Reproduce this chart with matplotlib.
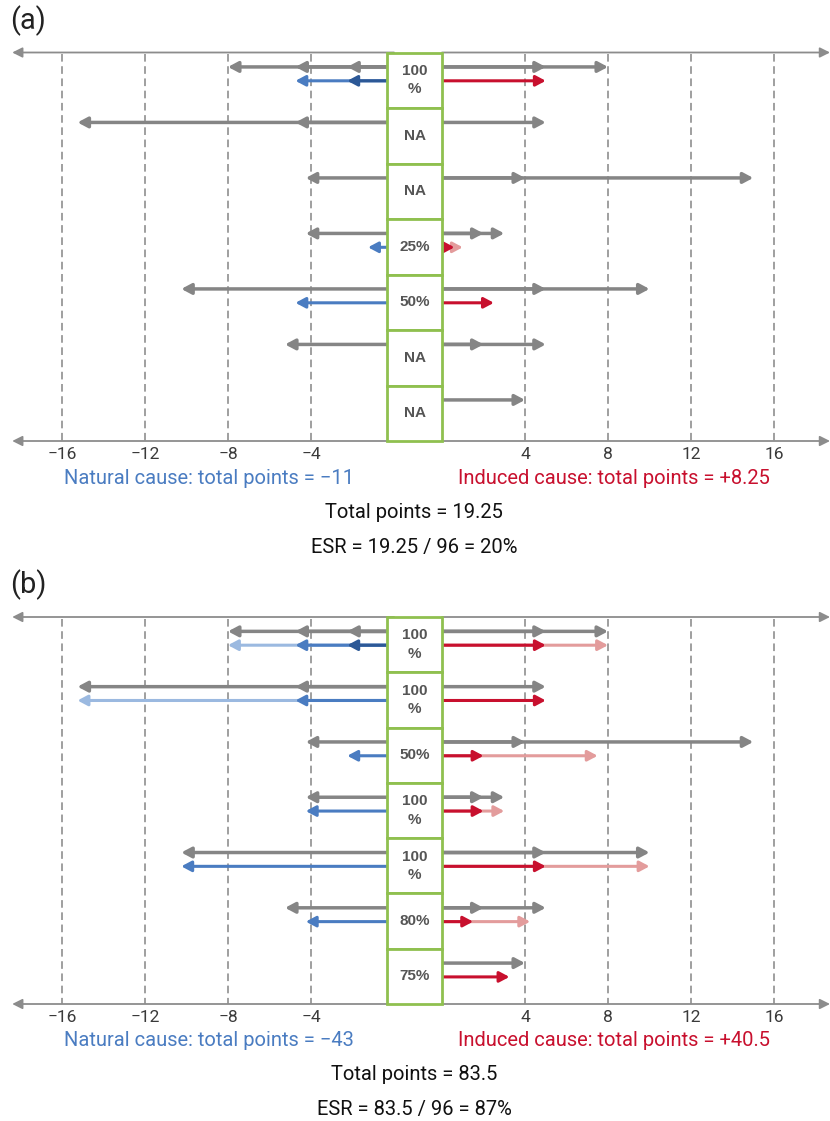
"""Scoring chart: natural vs induced cause, two assessment panels."""

import matplotlib
matplotlib.use("Agg")
import matplotlib.pyplot as plt
from matplotlib.patches import Rectangle

# Box labels for each row (top to bottom)
labels_a = ["100\n%", "NA", "NA", "25%", "50%", "NA", "NA"]
labels_b = ["100\n%", "100\n%", "50%", "100\n%", "100\n%", "80%", "75%"]

# Maximum points per row (grey), cumulative steps to the left / right
grey_left = [[-2.25, -4.75, -8], [-4.75, -15.25], [-4.25], [-4.25],
             [-10.25], [-5.25], []]
grey_right = [[5, 8], [5], [4, 15], [2, 3], [5, 10], [2, 5], [4]]

# Scored points, cumulative steps; shade 0 = dark, 1 = mid, 2 = light
natural_a = [[-2.25, -4.75], [], [], [-1.25], [-4.75], [], []]
natural_a_shade = [[0, 1], [], [], [1], [1], [], []]
induced_a = [[5], [], [], [0.6, 1.0], [2.5], [], []]
induced_a_shade = [[0], [], [], [0, 1], [0], [], []]

natural_b = [[-2.25, -4.75, -8], [-4.75, -15.25], [-2.25], [-4.25],
             [-10.25], [-4.25], []]
natural_b_shade = [[0, 1, 2], [1, 2], [1], [1], [1], [1], []]
induced_b = [[5, 8], [5], [2, 7.5], [2, 3], [5, 10], [1.5, 4.25], [3.25]]
induced_b_shade = [[0, 1], [0], [0, 1], [0, 1], [0, 1], [0, 1], [0]]

left_ticks = [-16, -12, -8, -4]
right_ticks = [4, 8, 12, 16]

summary_a = ["Natural cause: total points = \u221211",
             "Induced cause: total points = +8.25",
             "Total points = 19.25",
             "ESR = 19.25 / 96 = 20%"]
summary_b = ["Natural cause: total points = \u221243",
             "Induced cause: total points = +40.5",
             "Total points = 83.5",
             "ESR = 83.5 / 96 = 87%"]

# Styling
W, H = 830, 1121
PX = 20.75              # pixels per point unit
BOX_L, BOX_R = 387, 442
LEFT_ZERO = 394
AXIS_MIN, AXIS_MAX = -18.4, 18.7
GREY = "#858585"
AXIS_GREY = "#8c8c8c"
BLUES = ["#2c5896", "#4a7cc1", "#9bb9e0"]
REDS = ["#c8102e", "#e39c9c"]
GREEN = "#8fc04f"
TXT_BLUE = "#4a7cc1"
TXT_RED = "#c8102e"

plt.rcParams["font.family"] = ["Roboto", "Liberation Sans", "DejaVu Sans"]

fig = plt.figure(figsize=(W / 100, H / 100), dpi=100)


def arrows(ax, steps, shades, palette, y, lw):
    # longest first so the shorter (darker) steps sit on top
    for v, s in reversed(list(zip(steps, shades))):
        ax.annotate("", xy=(v, y), xytext=(0, y),
                    arrowprops=dict(arrowstyle="-|>,head_length=0.45,head_width=0.24",
                                    color=palette[s], lw=lw, mutation_scale=13,
                                    shrinkA=0, shrinkB=0),
                    annotation_clip=False)


def panel(top, bottom, tag, labels, nat, nat_shade, ind, ind_shade, summary):
    n = len(labels)
    y0 = 1 - bottom / H
    hh = (bottom - top) / H
    axl = fig.add_axes([0, y0, BOX_L / W, hh])
    axr = fig.add_axes([BOX_R / W, y0, 1 - BOX_R / W, hh])
    axm = fig.add_axes([BOX_L / W, y0, (BOX_R - BOX_L) / W, hh])

    axl.set_xlim(-LEFT_ZERO / PX, (BOX_L - LEFT_ZERO) / PX)
    axr.set_xlim(0, (W - BOX_R) / PX)
    axm.set_xlim(0, 1)

    for ax, ticks, lo in ((axl, left_ticks, AXIS_MIN), (axr, right_ticks, AXIS_MAX)):
        ax.set_ylim(n, 0)
        for sp in ax.spines.values():
            sp.set_visible(False)
        ax.set_yticks([])
        ax.set_xticks(ticks, [str(t).replace("-", "\u2212") for t in ticks])
        ax.tick_params(axis="x", length=0, pad=4, labelsize=12.5, labelcolor="#3a3a3a")
        ax.patch.set_alpha(0)
        ax.vlines(ticks, 0.03, n, colors=GREY, linestyles=(0, (5, 3)), lw=1.1, zorder=1)
        for yy in (0, n):
            ax.annotate("", xy=(lo, yy), xytext=(0, yy),
                        arrowprops=dict(arrowstyle="-|>,head_length=0.5,head_width=0.25",
                                        color=AXIS_GREY, lw=1.3, mutation_scale=12,
                                        shrinkA=0, shrinkB=0),
                        annotation_clip=False)

    for i in range(n):
        yg, yc = i + 0.26, i + 0.51
        arrows(axl, grey_left[i], [0] * len(grey_left[i]), [GREY], yg, 2.5)
        arrows(axr, grey_right[i], [0] * len(grey_right[i]), [GREY], yg, 2.5)
        arrows(axl, nat[i], nat_shade[i], BLUES, yc, 2.2)
        arrows(axr, ind[i], ind_shade[i], REDS, yc, 2.2)

    axm.set_ylim(n, 0)
    axm.axis("off")
    for i, lab in enumerate(labels):
        axm.add_patch(Rectangle((0, i), 1, 1, facecolor="white", edgecolor=GREEN,
                                lw=2, clip_on=False, zorder=3))
        axm.text(0.5, i + 0.5, lab, ha="center", va="center", fontsize=11,
                 fontweight="bold", color="#555555", linespacing=1.4,
                 family=["Liberation Sans", "DejaVu Sans"], zorder=4)

    fig.text(10 / W, 1 - (top - 32) / H, tag, fontsize=21, va="center", ha="left",
             color="#222222")
    fig.text(209 / W, 1 - (bottom + 37) / H, summary[0], fontsize=14.5,
             ha="center", va="center", color=TXT_BLUE)
    fig.text(614 / W, 1 - (bottom + 37) / H, summary[1], fontsize=14.5,
             ha="center", va="center", color=TXT_RED)
    fig.text(414 / W, 1 - (bottom + 71) / H, summary[2], fontsize=14.5,
             ha="center", va="center", color="#111111")
    fig.text(414 / W, 1 - (bottom + 106) / H, summary[3], fontsize=14.5,
             ha="center", va="center", color="#111111")


panel(52.5, 441, "(a)", labels_a, natural_a, natural_a_shade,
      induced_a, induced_a_shade, summary_a)
panel(617, 1004, "(b)", labels_b, natural_b, natural_b_shade,
      induced_b, induced_b_shade, summary_b)

fig.savefig("out.png", dpi=100)
